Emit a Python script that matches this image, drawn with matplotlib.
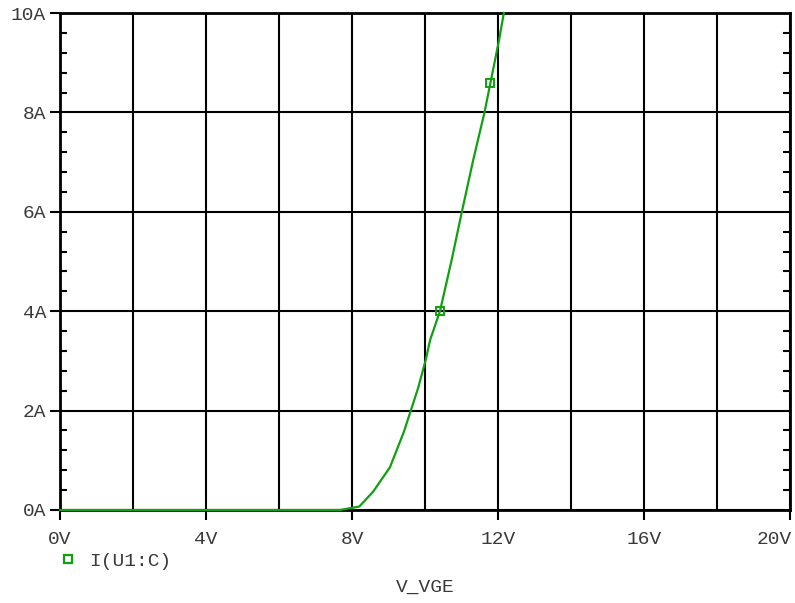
import matplotlib
matplotlib.use("Agg")
import matplotlib.pyplot as plt
from matplotlib.ticker import MultipleLocator, FuncFormatter
from matplotlib.lines import Line2D
from matplotlib.transforms import ScaledTranslation

# Data (V_GE in volts, I_C in amps)
vge = [0.0, 5.3, 6.8, 7.67, 8.2, 8.58, 9.04, 9.42, 9.81, 10.02, 10.14, 10.41,
       10.73, 11.01, 11.32, 11.63, 12.03, 12.16]
ic = [0.0, 0.0, 0.0, 0.0, 0.07, 0.37, 0.86, 1.57, 2.45, 3.02, 3.42, 4.0,
      5.03, 6.0, 7.04, 8.0, 9.46, 10.0]
marker_v = [10.41, 11.78]
marker_i = [4.0, 8.6]

series_label = "I(U1:C)"
x_label = "V_VGE"

FONT = ["Liberation Mono", "DejaVu Sans Mono"]
TXT = "#3a3a3a"
GREEN = "#10a010"

W, H = 795, 603
fig = plt.figure(figsize=(W / 100, H / 100), dpi=100)
ax = fig.add_axes([60 / W, (H - 510) / H, 730 / W, 497 / H])

ax.plot(vge, ic, color=GREEN, lw=1.6, zorder=5, clip_on=False)
ax.plot(marker_v, marker_i, ls="none", marker="s", ms=6, mfc="none",
        mec=GREEN, mew=1.4, zorder=6)

ax.set_xlim(0, 20)
ax.set_ylim(0, 10)

ax.xaxis.set_major_locator(MultipleLocator(4))
ax.xaxis.set_minor_locator(MultipleLocator(2))
ax.yaxis.set_major_locator(MultipleLocator(2))
ax.yaxis.set_minor_locator(MultipleLocator(0.4))
ax.xaxis.set_major_formatter(FuncFormatter(lambda v, p: f"{v:.0f}V"))
ax.yaxis.set_major_formatter(FuncFormatter(lambda v, p: f"{v:.0f}A"))

ax.grid(True, which="major", color="black", lw=1.5)
ax.xaxis.grid(True, which="minor", color="black", lw=1.5)

ax.tick_params(axis="x", which="major", direction="out", length=7, width=1.5,
               pad=8, labelsize=14, labelcolor=TXT)
ax.tick_params(axis="x", which="minor", length=0)
ax.tick_params(axis="y", which="major", direction="out", length=7, width=1.5,
               pad=3, labelsize=14, labelcolor=TXT, left=True, right=False)
ax.tick_params(axis="y", which="minor", direction="in", length=5, width=1.5,
               left=True, right=True)

for lab in ax.get_xticklabels() + ax.get_yticklabels():
    lab.set_fontfamily(FONT)

for s in ax.spines.values():
    s.set_linewidth(2)
    s.set_color("black")

ax.set_xlabel(x_label, fontsize=14, family=FONT, color=TXT, labelpad=0)
ax.xaxis.set_label_coords(0.5, -(587 - 510) / 497, transform=ax.transAxes)
ax.xaxis.label.set_va("center")

handle = Line2D([], [], ls="none", marker="s", ms=6, mfc="none", mec=GREEN, mew=1.6)
fig.legend([handle], [series_label], loc="center left",
           bbox_to_anchor=(62 / W, 1 - 561 / H), frameon=False,
           prop={"family": FONT, "size": 14}, labelcolor=TXT,
           handlelength=0.6, handletextpad=0.8, borderpad=0, borderaxespad=0)

# keep the last x tick label inside the figure, right-aligned like the reference
fig.canvas.draw()
xt = ax.xaxis.get_major_ticks()
last = [t for t in xt if abs(t.get_loc() - 20) < 1e-9]
for t in last:
    t.label1.set_horizontalalignment("right")
    t.label1.set_transform(t.label1.get_transform() +
                           ScaledTranslation(2 / 100, 0, fig.dpi_scale_trans))

fig.savefig("out.png", dpi=100)
